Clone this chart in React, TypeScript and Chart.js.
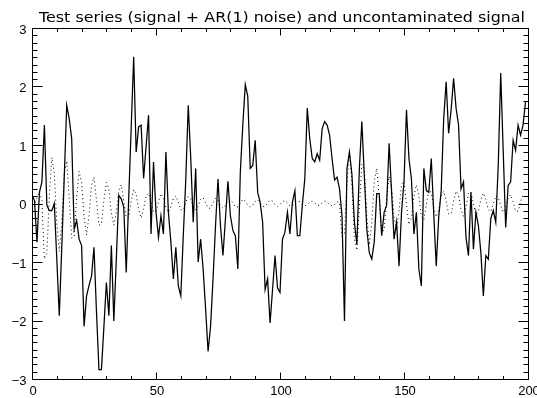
import { useEffect, useRef } from "react";
import { Chart, registerables } from "chart.js";

Chart.register(...registerables);

const TITLE = "Test series (signal + AR(1) noise) and uncontaminated signal";
const X_MAJOR_TICKS = [0, 50, 100, 150, 200];
const X_MINOR_TICKS = [10, 20, 30, 40, 60, 70, 80, 90, 110, 120, 130, 140, 160, 170, 180, 190];
const Y_MAJOR_TICKS = [-3, -2, -1, 0, 1, 2, 3];
const Y_MINOR_DIVISIONS = 8;

// Test series (signal + AR(1) noise), x = 0..199
const testSeries = [
  0.15, 0.05, -0.66, 0.19, 0.37, 1.34, -0.03, -0.12, -0.12, 0.0,
  -0.95, -1.92, -0.75, 0.45, 1.68, 1.45, 1.11, -0.44, -0.29, -0.61,
  -0.72, -2.1, -1.58, -1.4, -1.24, -0.75, -1.85, -2.84, -2.84, -2.1,
  -1.35, -1.92, -0.72, -2.01, -0.95, 0.14, 0.08, -0.06, -1.18, 0.1,
  1.3, 2.51, 0.88, 1.31, 1.34, 0.43, 0.97, 1.51, -0.52, 0.71,
  -0.15, -0.58, -0.21, -0.52, 0.88, -0.15, -0.66, -1.29, -0.75, -1.41,
  -1.58, -0.55, 0.4, 1.68, 0.79, -0.32, 0.6, -1.0, -0.61, -1.12,
  -1.8, -2.53, -2.1, -1.29, -0.38, 0.42, -0.38, -0.89, -0.26, 0.38,
  -0.21, -0.46, -0.55, -1.12, 0.54, 1.34, 2.03, 1.83, 0.6, 0.65,
  1.08, 0.19, 0.02, -0.32, -1.47, -1.29, -2.04, -1.47, -0.89, -1.44,
  -1.52, -0.61, -0.49, -0.15, -0.52, 0.02, 0.22, -0.55, -0.55, -0.03,
  0.42, 1.63, 1.11, 0.77, 0.71, 0.85, 0.74, 1.28, 1.4, 1.34,
  1.17, 0.77, 0.4, 0.45, 0.25, -0.21, -2.01, 0.6, 0.88, 0.5,
  -0.32, -0.7, 0.6, 1.4, 0.48, -0.44, -0.84, -0.95, -0.66, 0.17,
  0.17, -0.55, -0.15, -0.03, 1.03, 0.19, -0.61, -0.32, -1.07, -0.15,
  0.37, 1.6, 0.77, 0.42, -0.52, -0.15, -1.12, -1.41, 0.6, 0.22,
  0.19, 0.77, -0.18, -1.07, -0.23, 0.22, 1.45, 2.08, 1.2, 1.6,
  2.14, 1.63, 1.34, 0.25, 0.37, -0.58, -0.89, 0.19, -0.78, -0.15,
  -0.38, -0.84, -1.58, -0.89, -0.95, -0.26, -0.12, -0.32, 0.65, 2.23,
  0.9, -0.41, 0.31, 0.37, 1.08, 0.91, 1.34, 1.17, 1.34, 1.74,
];

// Uncontaminated signal, x = 0..199
const signalSeries = [
  0.0, -0.05, 0.1, 0.2, 0.05, -0.95, -0.85, 0.12, 0.79, 0.52,
  -0.33, -0.82, -0.33, 0.51, 0.73, 0.1, -0.59, -0.57, 0.09, 0.55,
  0.36, -0.23, -0.54, -0.21, 0.31, 0.45, 0.06, -0.37, -0.35, 0.06,
  0.36, 0.25, -0.16, -0.37, -0.15, 0.22, 0.32, 0.04, -0.24, -0.24,
  0.04, 0.24, 0.16, -0.1, -0.25, -0.09, 0.13, 0.18, 0.03, -0.14,
  -0.14, 0.03, 0.17, 0.1, -0.07, -0.15, -0.06, 0.09, 0.13, 0.02,
  -0.11, -0.11, 0.02, 0.12, 0.08, -0.05, -0.11, -0.05, 0.07, 0.1,
  0.01, -0.08, -0.08, 0.01, 0.09, 0.06, -0.04, -0.08, -0.03, 0.05,
  0.07, 0.01, -0.06, -0.06, 0.01, 0.07, 0.04, -0.03, -0.06, -0.03,
  0.04, 0.06, 0.01, -0.05, -0.05, 0.01, 0.06, 0.04, -0.02, -0.05,
  -0.02, 0.03, 0.05, 0.01, -0.04, -0.04, 0.01, 0.04, 0.03, -0.02,
  -0.04, -0.02, 0.03, 0.04, 0.01, -0.03, -0.03, 0.01, 0.04, 0.03,
  -0.02, -0.04, -0.02, 0.03, 0.02, -0.56, -0.51, 0.34, 0.9, 0.36,
  -0.6, -0.8, -0.05, 0.67, 0.57, -0.21, -0.71, -0.34, 0.38, 0.6,
  0.1, -0.48, -0.46, 0.09, 0.46, 0.27, -0.23, -0.45, -0.13, 0.33,
  0.38, -0.02, -0.36, -0.24, 0.13, 0.32, 0.13, -0.22, -0.28, -0.02,
  0.23, 0.19, -0.07, -0.23, -0.11, 0.13, 0.21, 0.04, -0.18, -0.18,
  0.04, 0.21, 0.13, -0.11, -0.22, -0.06, 0.17, 0.2, -0.01, -0.19,
  -0.14, 0.07, 0.18, 0.07, -0.11, -0.14, -0.01, 0.13, 0.11, -0.04,
  -0.15, -0.08, 0.09, 0.15, 0.03, -0.13, -0.13, 0.03, 0.15, 0.09,
];

const LABEL_FONT = "13px 'Liberation Sans', 'DejaVu Sans', sans-serif";
const TITLE_FONT = "14px 'DejaVu Sans', sans-serif";

const idlAxesPlugin = {
  id: "idlAxes",
  afterDraw(chart: any) {
    const { ctx, chartArea: a, scales } = chart;
    const xs = scales.x;
    const ys = scales.y;
    const L = Math.round(a.left) + 0.5;
    const R = Math.round(a.right) + 0.5;
    const T = Math.round(a.top) + 0.5;
    const B = Math.round(a.bottom) + 0.5;
    ctx.save();
    ctx.strokeStyle = "#000";
    ctx.fillStyle = "#000";
    ctx.lineWidth = 1;
    ctx.beginPath();
    ctx.rect(L, T, R - L, B - T);
    ctx.stroke();

    const xMajorLen = 7;
    const xMinorLen = 3.5;
    const yMajorLen = 10;
    const yMinorLen = 5;

    ctx.beginPath();
    X_MAJOR_TICKS.forEach((v) => {
      const px = Math.round(xs.getPixelForValue(v)) + 0.5;
      ctx.moveTo(px, B); ctx.lineTo(px, B - xMajorLen);
      ctx.moveTo(px, T); ctx.lineTo(px, T + xMajorLen);
    });
    X_MINOR_TICKS.forEach((v) => {
      const px = Math.round(xs.getPixelForValue(v)) + 0.5;
      ctx.moveTo(px, B); ctx.lineTo(px, B - xMinorLen);
      ctx.moveTo(px, T); ctx.lineTo(px, T + xMinorLen);
    });
    Y_MAJOR_TICKS.forEach((v, i) => {
      const py = Math.round(ys.getPixelForValue(v)) + 0.5;
      ctx.moveTo(L, py); ctx.lineTo(L + yMajorLen, py);
      ctx.moveTo(R, py); ctx.lineTo(R - yMajorLen, py);
      if (i < Y_MAJOR_TICKS.length - 1) {
        const next = Y_MAJOR_TICKS[i + 1];
        for (let k = 1; k < Y_MINOR_DIVISIONS; k++) {
          const mv = v + ((next - v) * k) / Y_MINOR_DIVISIONS;
          const my = Math.round(ys.getPixelForValue(mv)) + 0.5;
          ctx.moveTo(L, my); ctx.lineTo(L + yMinorLen, my);
          ctx.moveTo(R, my); ctx.lineTo(R - yMinorLen, my);
        }
      }
    });
    ctx.stroke();

    ctx.font = LABEL_FONT;
    ctx.textAlign = "center";
    ctx.textBaseline = "alphabetic";
    X_MAJOR_TICKS.forEach((v) => {
      const px = xs.getPixelForValue(v);
      ctx.fillText(String(v), px + 1, 395);
    });
    ctx.textAlign = "right";
    ctx.textBaseline = "middle";
    Y_MAJOR_TICKS.forEach((v) => {
      const py = ys.getPixelForValue(v);
      const label = v < 0 ? "\u2212" + Math.abs(v) : String(v);
      ctx.fillText(label, L - 6, py + 2);
    });

    ctx.font = TITLE_FONT;
    ctx.textAlign = "left";
    ctx.textBaseline = "alphabetic";
    const w = ctx.measureText(TITLE).width;
    const target = 486;
    ctx.translate(39, 22);
    ctx.scale(target / w, 1);
    ctx.fillText(TITLE, 0, 0);
    ctx.restore();
  },
};

export default function App() {
  const ref = useRef<HTMLCanvasElement>(null);
  useEffect(() => {
    const canvas = ref.current;
    if (!canvas) return;
    const chart = new Chart(canvas, {
      type: "line",
      data: {
        datasets: [
          {
            label: "Test series",
            data: testSeries.map((y, i) => ({ x: i, y })),
            borderColor: "#000",
            borderWidth: 1.25,
            pointRadius: 0,
            tension: 0,
            fill: false,
          },
          {
            label: "Signal",
            data: signalSeries.map((y, i) => ({ x: i, y })),
            borderColor: "#000",
            borderWidth: 1,
            borderDash: [1, 3],
            pointRadius: 0,
            tension: 0,
            fill: false,
          },
        ],
      },
      options: {
        animation: false,
        responsive: false,
        devicePixelRatio: 1,
        events: [],
        layout: { padding: { left: 32, right: 9, top: 28, bottom: 19 } },
        scales: {
          x: { type: "linear", min: 0, max: 200, display: false },
          y: { type: "linear", min: -3, max: 3, display: false },
        },
        plugins: {
          legend: { display: false },
          tooltip: { enabled: false },
          title: { display: false },
        },
      },
      plugins: [idlAxesPlugin],
    } as any);
    return () => chart.destroy();
  }, []);
  return (
    <div style={{ position: "absolute", left: 0, top: 0, width: 537, height: 398, background: "#fff" }}>
      <canvas ref={ref} width={537} height={398} style={{ display: "block" }} />
    </div>
  );
}
